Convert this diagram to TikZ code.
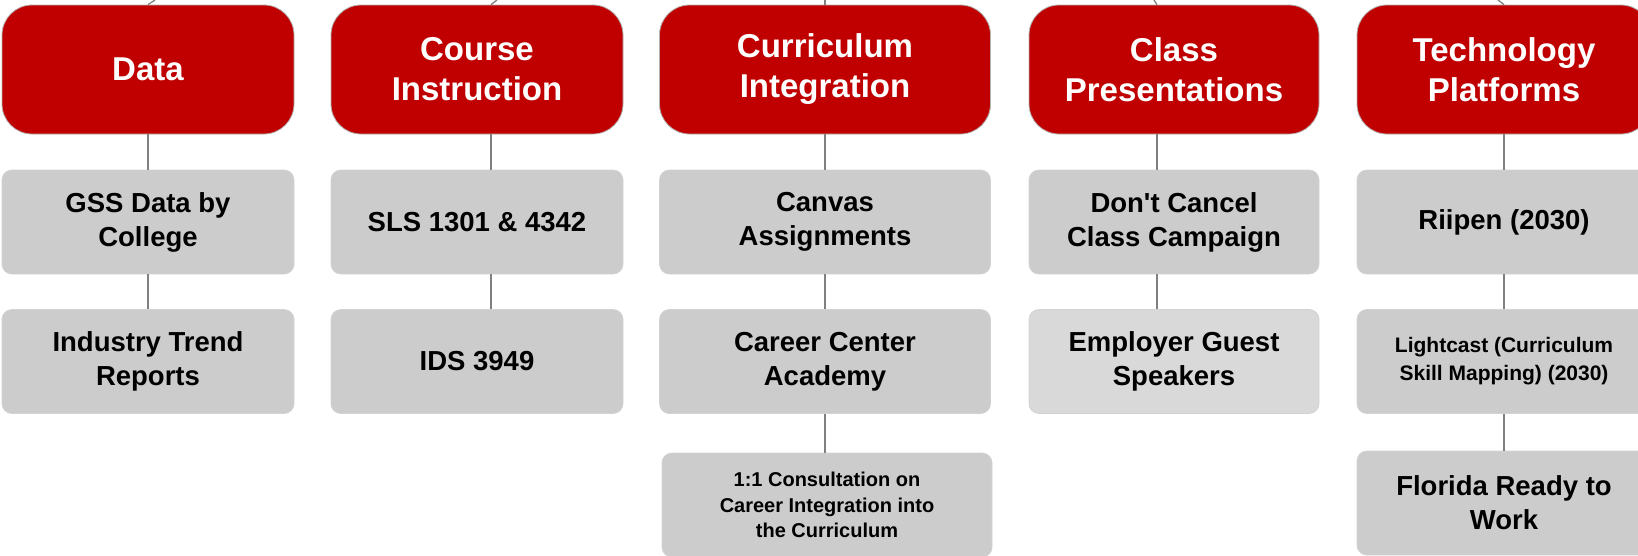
\documentclass[tikz,border=0pt]{standalone}
\usepackage{fontspec}
\setmainfont{Liberation Sans}
\definecolor{headred}{HTML}{C00000}
\definecolor{itemgray}{HTML}{CCCCCC}
\definecolor{itemlight}{HTML}{D9D9D9}
\definecolor{linegray}{HTML}{808080}
\begin{document}
\begin{tikzpicture}[x=1pt,y=-1pt,
    head/.style={rectangle, rounded corners=30pt, fill=headred, draw=gray!60, line width=0.8pt,
        text=white, font=\fontsize{33}{40}\selectfont\bfseries, align=center,
        minimum height=129pt, inner sep=0pt},
    item/.style={rectangle, rounded corners=10pt, fill=itemgray, draw=gray!35, line width=0.8pt,
        text=black, font=\fontsize{27.5}{34}\selectfont\bfseries, align=center,
        minimum height=104pt, inner sep=0pt},
    link/.style={draw=linegray, line width=1.3pt}]
    \useasboundingbox (0,0) rectangle (1638,555);
    \clip (0,0) rectangle (1638,555);

    \node[head, minimum width=292pt] (data)   at (148,69.5)  {Data};
    \node[head, minimum width=292pt] (course) at (477,69.5)  {Course\\Instruction};
    \node[head, minimum width=331pt] (curric) at (825,69.5)  {Curriculum\\Integration};
    \node[head, minimum width=290pt] (class)  at (1174,69.5) {Class\\Presentations};
    \node[head, minimum width=294pt] (tech)   at (1504,69.5) {Technology\\Platforms};

    \node[item, minimum width=292pt] (gss)      at (148,222)   {GSS Data by\\College};
    \node[item, minimum width=292pt] (trend)    at (148,361.5) {Industry Trend\\Reports};
    \node[item, minimum width=292pt] (sls)      at (477,222)   {SLS 1301 \& 4342};
    \node[item, minimum width=292pt] (ids)      at (477,361.5) {IDS 3949};
    \node[item, minimum width=331pt] (canvas)   at (825,222)   {Canvas\\Assignments};
    \node[item, minimum width=331pt] (academy)  at (825,361.5) {Career Center\\Academy};
    \node[item, minimum width=330pt, font=\fontsize{20}{25.5}\selectfont\bfseries]
                                     (consult)  at (827,505)   {1:1 Consultation on\\Career Integration into\\the Curriculum};
    \node[item, minimum width=290pt] (campaign) at (1174,222)  {Don\textquotesingle t Cancel\\Class Campaign};
    \node[item, minimum width=290pt, fill=itemlight]
                                     (speakers) at (1174,361.5) {Employer Guest\\Speakers};
    \node[item, minimum width=294pt] (riipen)   at (1504,222)  {Riipen (2030)};
    \node[item, minimum width=294pt, font=\fontsize{21}{28}\selectfont\bfseries]
                                     (lightcast) at (1504,361.5) {Lightcast (Curriculum\\Skill Mapping) (2030)};
    \node[item, minimum width=294pt] (florida)  at (1504,503)  {Florida Ready to\\Work};

    \coordinate (datatop)   at (155,0);
    \coordinate (coursetop) at (497,0);
    \coordinate (currictop) at (825,0);
    \coordinate (classtop)  at (1154,0);
    \coordinate (techtop)   at (1498,0);

    \draw[link] (data.north) -- (datatop);
    \draw[link] ([xshift=14pt]course.north) -- (coursetop);
    \draw[link] (curric.north) -- (currictop);
    \draw[link] ([xshift=-17pt]class.north) -- (classtop);
    \draw[link] (tech.north) -- (techtop);

    \draw[link] (data) -- (gss);
    \draw[link] (gss) -- (trend);
    \draw[link] ([xshift=14pt]course.south) -- ([xshift=14pt]sls.north);
    \draw[link] ([xshift=14pt]sls.south) -- ([xshift=14pt]ids.north);
    \draw[link] (curric) -- (canvas);
    \draw[link] (canvas) -- (academy);
    \draw[link] (academy.south) -- (academy.south |- consult.north);
    \draw[link] ([xshift=-17pt]class.south) -- ([xshift=-17pt]campaign.north);
    \draw[link] ([xshift=-17pt]campaign.south) -- ([xshift=-17pt]speakers.north);
    \draw[link] (tech) -- (riipen);
    \draw[link] (riipen) -- (lightcast);
    \draw[link] (lightcast) -- (florida);
\end{tikzpicture}
\end{document}
